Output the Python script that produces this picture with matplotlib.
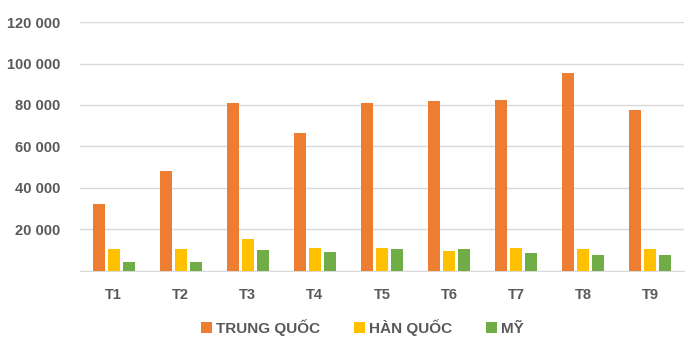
import numpy as np
import matplotlib.pyplot as plt
from matplotlib.ticker import FuncFormatter

months = ["T1", "T2", "T3", "T4", "T5", "T6", "T7", "T8", "T9"]
trung_quoc = [32300, 48300, 81000, 66700, 81000, 81900, 82500, 95400, 77600]
han_quoc = [10600, 10600, 15400, 10900, 10900, 9500, 10900, 10500, 10500]
my = [4500, 4500, 10000, 9000, 10500, 10500, 8500, 7900, 7900]

labels = ["TRUNG QUỐC", "HÀN QUỐC", "MỸ"]
colors = ["#ED7D31", "#FFC000", "#70AD47"]
text_color = "#595959"

plt.rcParams['font.family'] = ['Liberation Sans', 'DejaVu Sans']
plt.rcParams['font.weight'] = 'bold'

fig = plt.figure(figsize=(6.97, 3.5), dpi=100)
ax = fig.add_axes([0.115, 0.226, 0.866, 0.711])

x = np.arange(len(months))
w = 0.18
step = 0.224
for i, (vals, lab, c) in enumerate(zip([trung_quoc, han_quoc, my], labels, colors)):
    ax.bar(x + (i - 1) * step, vals, width=w, color=c, label=lab, zorder=3)

ax.set_xlim(-0.5, len(months) - 0.5)
ax.set_ylim(0, 120000)
ax.set_yticks(range(0, 120001, 20000))
ax.yaxis.set_major_formatter(FuncFormatter(lambda v, p: "" if v == 0 else f"{int(v):,}".replace(",", " ")))
ax.set_xticks(x)
ax.set_xticklabels(months)

ax.grid(axis='y', color="#d9d9d9", linewidth=1, zorder=0)
for s in ["top", "right", "left"]:
    ax.spines[s].set_visible(False)
ax.spines["bottom"].set_color("#d9d9d9")
ax.tick_params(axis='both', length=0, colors=text_color, labelsize=10.5)
ax.tick_params(axis='x', pad=12)
ax.tick_params(axis='y', pad=14)

leg = fig.legend(loc='center', bbox_to_anchor=(0.52, 0.065), ncol=3, frameon=False,
                 handlelength=0.7, handleheight=0.7, handletextpad=0.3, columnspacing=2.2,
                 prop={'size': 11, 'weight': 'bold'})
for t in leg.get_texts():
    t.set_color(text_color)

fig.savefig("out.png", dpi=100)
